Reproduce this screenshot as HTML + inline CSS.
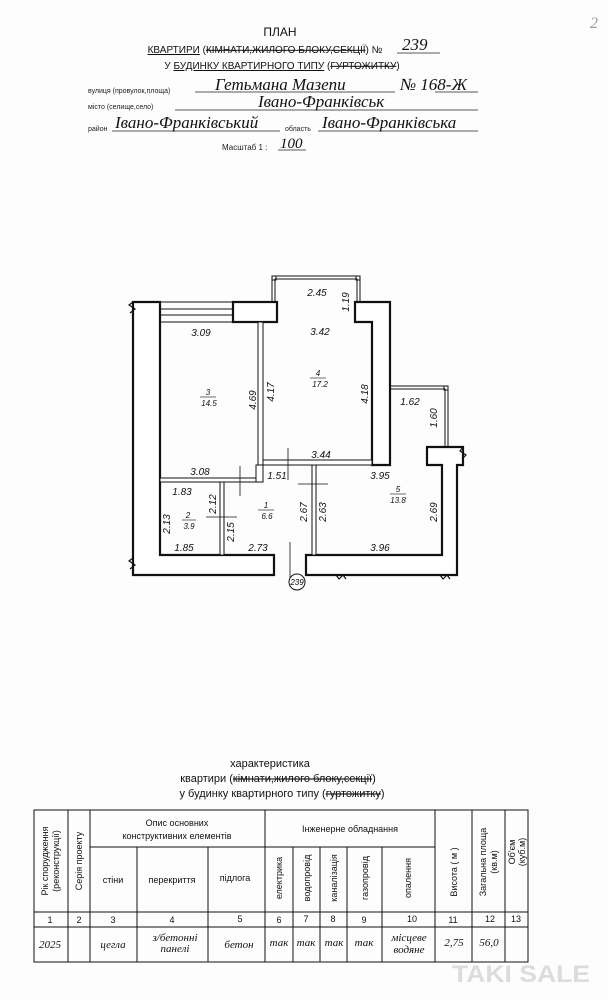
<!DOCTYPE html>
<html><head><meta charset="utf-8"><style>
html,body{margin:0;padding:0;background:#fff;}
svg{display:block;font-family:"Liberation Sans",sans-serif;}
.it{font-family:"Liberation Serif",serif;font-style:italic;}
.si{font-family:"Liberation Sans",sans-serif;font-style:italic;}
</style></head><body>
<svg width="608" height="1000" viewBox="0 0 608 1000" xmlns="http://www.w3.org/2000/svg">
<rect width="608" height="1000" fill="#fdfdfd"/>
<text x="590" y="28" font-size="16" fill="#999" class="it">2</text>
<g font-size="11" fill="#111" text-anchor="middle">
<text x="280" y="36" font-size="12">ПЛАН</text>
<text x="265" y="53" font-size="10"><tspan text-decoration="underline">КВАРТИРИ</tspan> (<tspan text-decoration="line-through">КІМНАТИ,ЖИЛОГО БЛОКУ,СЕКЦІЇ</tspan>) №</text>
<text x="282" y="69" font-size="10">У <tspan text-decoration="underline">БУДИНКУ КВАРТИРНОГО ТИПУ</tspan> (<tspan text-decoration="line-through">ГУРТОЖИТКУ</tspan>)</text>
</g>
<g fill="#222" font-size="7">
<text x="88" y="93">вулиця (провулок,площа)</text>
<text x="88" y="109">місто (селище,село)</text>
<text x="88" y="131">район</text>
<text x="285" y="131">область</text>
<text x="222" y="150" font-size="8">Масштаб 1 :</text>
</g>
<g stroke="#222" stroke-width="0.8">
<line x1="397" y1="53" x2="440" y2="53"/>
<line x1="195" y1="92" x2="395" y2="92"/>
<line x1="435" y1="92" x2="478" y2="92"/>
<line x1="175" y1="110" x2="478" y2="110"/>
<line x1="112" y1="131" x2="280" y2="131"/>
<line x1="318" y1="131" x2="478" y2="131"/>
<line x1="278" y1="150" x2="306" y2="150"/>
</g>
<g class="it" fill="#111" font-size="17">
<text x="402" y="50">239</text>
<text x="215" y="90">Гетьмана Мазепи</text>
<text x="400" y="90">№ 168-Ж</text>
<text x="258" y="107">Івано-Франківськ</text>
<text x="115" y="128">Івано-Франківський</text>
<text x="322" y="128">Івано-Франківська</text>
<text x="280" y="148" font-size="15">100</text>
</g>
<g stroke="#111" fill="none" stroke-width="1">
<path d="M272 302 V276 H360 V302" /><path d="M275 302 V279 H357 V302"/>
<rect x="272" y="276" width="4" height="4"/><rect x="356" y="276" width="4" height="4"/>
<path d="M160 302 H233 M160 309 H233 M160 315 H233 M160 322 H233"/>
<path d="M390 386 H448 V447 M390 389 H445 V447"/>
<rect x="444" y="386" width="4" height="4"/>
</g>
<g fill="#fff" stroke="#111" stroke-width="2.2">
<path d="M133 302 H160 V555 H274 V575 H133 Z"/>
<rect x="233" y="302" width="44" height="20" fill="#fff"/>
<path d="M355 302 H390 V465 H372 V322 H355 Z"/>
<path d="M427 447 H463 V465 H457 V575 H306 V555 H442 V465 H427 Z"/>
</g>
<g stroke="#111" stroke-width="1.2" fill="none">
<path d="M133 302 l-4 3 l6 4 l-5 4"/><path d="M133 558 l-4 3 l6 4 l-5 4"/>
<path d="M463 447 l-3 4 l6 4 l-4 4"/>
<path d="M336 575 l3 4 l4 -4 l3 4"/><path d="M440 575 l3 4 l4 -4 l3 4"/>
</g>
<g fill="#fff" stroke="#111" stroke-width="1">
<rect x="258" y="322" width="5" height="143"/>
<rect x="263" y="460" width="109" height="5"/>
<rect x="160" y="478" width="100" height="4"/>
<rect x="220" y="482" width="4" height="73"/>
<rect x="312" y="465" width="4" height="90"/>
<rect x="256" y="465" width="7" height="17"/>
</g>
<g stroke="#111" stroke-width="0.8">
<line x1="288" y1="448" x2="288" y2="480"/>
<line x1="240" y1="466" x2="240" y2="496"/>
<line x1="298" y1="484" x2="328" y2="484"/>
<line x1="206" y1="517" x2="237" y2="517"/>
<line x1="290" y1="542" x2="290" y2="580"/>
</g>
<circle cx="297" cy="582" r="8" fill="#fff" stroke="#111" stroke-width="1"/>
<text x="297" y="585" font-size="8" text-anchor="middle" class="si">239</text>
<g class="si" font-size="10" fill="#111" text-anchor="middle">
<text x="317" y="296">2.45</text>
<text x="201" y="336">3.09</text>
<text x="320" y="335">3.42</text>
<text x="410" y="405">1.62</text>
<text x="321" y="458">3.44</text>
<text x="200" y="475">3.08</text>
<text x="277" y="479">1.51</text>
<text x="380" y="479">3.95</text>
<text x="182" y="495">1.83</text>
<text x="184" y="551">1.85</text>
<text x="258" y="551">2.73</text>
<text x="380" y="551">3.96</text>
<text x="208" y="395" font-size="8">3</text><line x1="200" y1="397" x2="216" y2="397" stroke="#111" stroke-width="0.6"/><text x="209" y="406" font-size="8">14.5</text>
<text x="318" y="376" font-size="8">4</text><line x1="310" y1="378" x2="326" y2="378" stroke="#111" stroke-width="0.6"/><text x="320" y="378" font-size="8" dy="9">17.2</text>
<text x="398" y="492" font-size="8">5</text><line x1="390" y1="494" x2="406" y2="494" stroke="#111" stroke-width="0.6"/><text x="398" y="503" font-size="8">13.8</text>
<text x="188" y="518" font-size="8">2</text><line x1="182" y1="520" x2="196" y2="520" stroke="#111" stroke-width="0.6"/><text x="189" y="529" font-size="8">3.9</text>
<text x="266" y="508" font-size="8">1</text><line x1="258" y1="510" x2="274" y2="510" stroke="#111" stroke-width="0.6"/><text x="267" y="519" font-size="8">6.6</text>
</g>
<g class="si" font-size="10" fill="#111" text-anchor="middle">
<text transform="translate(349,302) rotate(-90)">1.19</text>
<text transform="translate(256,400) rotate(-90)">4.69</text>
<text transform="translate(274,392) rotate(-90)">4.17</text>
<text transform="translate(368,394) rotate(-90)">4.18</text>
<text transform="translate(437,418) rotate(-90)">1.60</text>
<text transform="translate(170,524) rotate(-90)">2.13</text>
<text transform="translate(216,504) rotate(-90)">2.12</text>
<text transform="translate(234,532) rotate(-90)">2.15</text>
<text transform="translate(307,512) rotate(-90)">2.67</text>
<text transform="translate(326,512) rotate(-90)">2.63</text>
<text transform="translate(437,512) rotate(-90)">2.69</text>
</g>
<g text-anchor="middle" font-size="11" fill="#111">
<text x="270" y="767">характеристика</text>
<text x="278" y="782">квартири (<tspan text-decoration="line-through">кімнати,жилого блоку,секції</tspan>)</text>
<text x="282" y="797">у будинку квартирного типу (<tspan text-decoration="line-through">гуртожитку</tspan>)</text>
</g>
<g stroke="#111" stroke-width="1" fill="none">
<rect x="34" y="810" width="494" height="152"/>
<line x1="90" y1="847" x2="435" y2="847"/>
<line x1="34" y1="912" x2="528" y2="912"/>
<line x1="34" y1="927" x2="528" y2="927"/>
<line x1="68" y1="810" x2="68" y2="962"/>
<line x1="90" y1="810" x2="90" y2="962"/>
<line x1="265" y1="810" x2="265" y2="962"/>
<line x1="435" y1="810" x2="435" y2="962"/>
<line x1="472" y1="810" x2="472" y2="962"/>
<line x1="505" y1="810" x2="505" y2="962"/>
<line x1="137" y1="847" x2="137" y2="962"/>
<line x1="208" y1="847" x2="208" y2="962"/>
<line x1="293" y1="847" x2="293" y2="962"/>
<line x1="320" y1="847" x2="320" y2="962"/>
<line x1="347" y1="847" x2="347" y2="962"/>
<line x1="382" y1="847" x2="382" y2="962"/>
</g>
<g font-size="9" fill="#111" text-anchor="middle">
<text x="177" y="826">Опис основних</text>
<text x="177" y="839">конструктивних елементів</text>
<text x="350" y="832">Інженерне обладнання</text>
<text x="113" y="883">стіни</text>
<text x="172" y="883">перекриття</text>
<text x="235" y="881">підлога</text>
<text transform="translate(48,861) rotate(-90)">Рік спорудження</text>
<text transform="translate(59,861) rotate(-90)">(реконструкції)</text>
<text transform="translate(82,861) rotate(-90)">Серія проекту</text>
<text transform="translate(282,878) rotate(-90)">електрика</text>
<text transform="translate(310,878) rotate(-90)">водопровід</text>
<text transform="translate(337,878) rotate(-90)">каналізація</text>
<text transform="translate(368,878) rotate(-90)">газопровід</text>
<text transform="translate(411,878) rotate(-90)">опалення</text>
<text transform="translate(457,872) rotate(-90)">Висота ( м )</text>
<text transform="translate(486,862) rotate(-90)">Загальна площа</text>
<text transform="translate(497,862) rotate(-90)">(кв.м)</text>
<text transform="translate(515,852) rotate(-90)">Об'єм</text>
<text transform="translate(525,852) rotate(-90)">(куб.м)</text>
<text x="50" y="923">1</text><text x="79" y="923">2</text><text x="113" y="923">3</text>
<text x="172" y="923">4</text><text x="240" y="922">5</text><text x="279" y="923">6</text>
<text x="306" y="922">7</text><text x="333" y="922">8</text><text x="364" y="923">9</text>
<text x="412" y="922">10</text><text x="453" y="923">11</text><text x="490" y="922">12</text><text x="516" y="922">13</text>
</g>
<g class="it" font-size="11" fill="#111" text-anchor="middle">
<text x="50" y="948">2025</text>
<text x="113" y="948">цегла</text>
<text x="175" y="941">з/бетонні</text>
<text x="175" y="952">панелі</text>
<text x="239" y="948">бетон</text>
<text x="279" y="946">так</text><text x="306" y="946">так</text><text x="334" y="946">так</text><text x="364" y="946">так</text>
<text x="409" y="941">місцеве</text><text x="409" y="953">водяне</text>
<text x="454" y="946">2,75</text><text x="489" y="946">56,0</text>
</g>
<text x="452" y="982" font-size="24" fill="#dcdcdc" font-weight="bold" textLength="138" lengthAdjust="spacingAndGlyphs">TAKI SALE</text>
</svg>
</body></html>
